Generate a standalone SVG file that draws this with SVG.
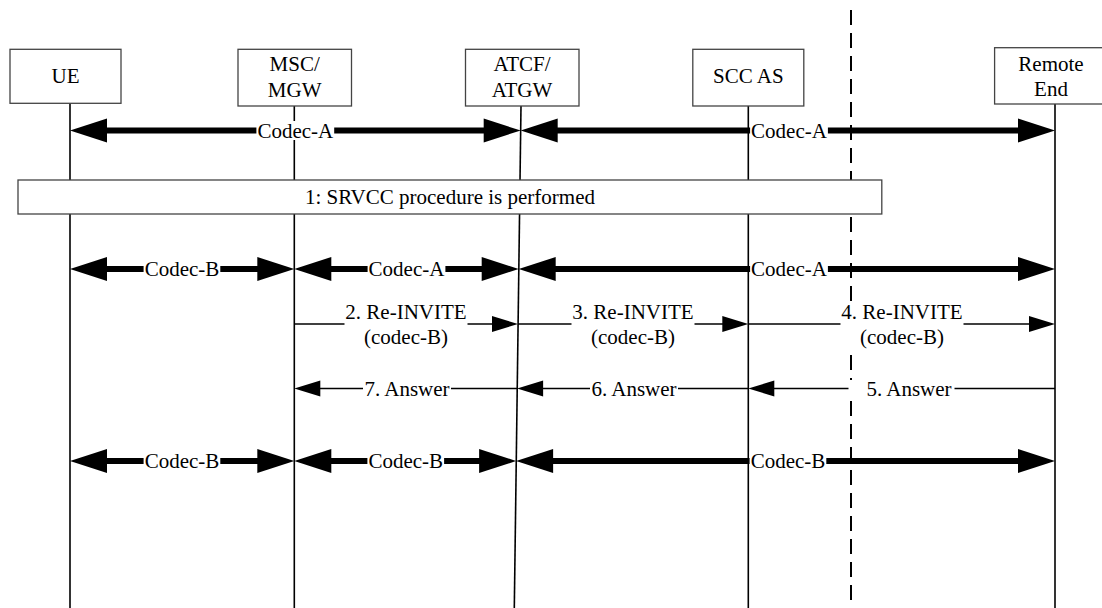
<svg xmlns="http://www.w3.org/2000/svg" width="1102" height="608" viewBox="0 0 1102 608">
<defs>
  <marker id="bigHead" markerUnits="userSpaceOnUse" viewBox="-2 -13 40 26" markerWidth="40" markerHeight="26" refX="0" refY="0" orient="auto-start-reverse">
    <path d="M-1,-12 L36,0 L-1,12 z" fill="#000"/>
  </marker>
  <marker id="smallHead" markerUnits="userSpaceOnUse" viewBox="-2 -9 28 18" markerWidth="28" markerHeight="18" refX="0" refY="0" orient="auto-start-reverse">
    <path d="M-1,-8 L25,0 L-1,8 z" fill="#000"/>
  </marker>
</defs>
<rect x="0" y="0" width="1102" height="608" fill="#fff"/>

<g id="UE">
  <line x1="70" y1="103.3" x2="70" y2="608" stroke="#000" stroke-width="1.6"/>
  <rect x="10" y="49.3" width="111" height="54" fill="#fff" stroke="#444" stroke-width="1.3"/>
  <text x="65.5" y="83" font-family="Liberation Serif" font-size="21" text-anchor="middle">UE</text>
</g>
<g id="MSC-MGW">
  <line x1="294.3" y1="106" x2="294.3" y2="608" stroke="#000" stroke-width="1.6"/>
  <rect x="238" y="49.3" width="113.5" height="56.7" fill="#fff" stroke="#444" stroke-width="1.3"/>
  <text x="294.7" y="71" font-family="Liberation Serif" font-size="21" text-anchor="middle">MSC/</text>
  <text x="294.7" y="97" font-family="Liberation Serif" font-size="21" text-anchor="middle">MGW</text>
</g>
<g id="ATCF-ATGW">
  <line x1="521" y1="106" x2="514.3" y2="608" stroke="#000" stroke-width="1.6"/>
  <rect x="465.5" y="49.3" width="113.5" height="56.7" fill="#fff" stroke="#444" stroke-width="1.3"/>
  <text x="522" y="71" font-family="Liberation Serif" font-size="21" text-anchor="middle">ATCF/</text>
  <text x="522" y="97" font-family="Liberation Serif" font-size="21" text-anchor="middle">ATGW</text>
</g>
<g id="SCC-AS">
  <line x1="748.3" y1="106" x2="748.3" y2="608" stroke="#000" stroke-width="1.6"/>
  <rect x="692.8" y="49.3" width="111" height="56.7" fill="#fff" stroke="#444" stroke-width="1.3"/>
  <text x="748.3" y="83" font-family="Liberation Serif" font-size="21" text-anchor="middle">SCC AS</text>
</g>
<g id="Remote-End">
  <line x1="1055" y1="104" x2="1055" y2="608" stroke="#000" stroke-width="1.6"/>
  <rect x="994.6" y="47.7" width="113" height="56.3" fill="#fff" stroke="#444" stroke-width="1.3"/>
  <text x="1051" y="70.7" font-family="Liberation Serif" font-size="21" text-anchor="middle">Remote</text>
  <text x="1051" y="95.7" font-family="Liberation Serif" font-size="21" text-anchor="middle">End</text>
</g>
<g id="boundary">
  <line x1="851" y1="10" x2="851" y2="608" stroke="#000" stroke-width="2" stroke-dasharray="15 8"/>
</g>

<g id="connectors">
  <g stroke="#000" stroke-width="6" fill="none">
    <line x1="106" y1="130.5" x2="484.7" y2="130.5" marker-start="url(#bigHead)" marker-end="url(#bigHead)"/>
    <line x1="556.7" y1="130.5" x2="1019" y2="130.5" marker-start="url(#bigHead)" marker-end="url(#bigHead)"/>
    <line x1="106" y1="269" x2="258.3" y2="269" marker-start="url(#bigHead)" marker-end="url(#bigHead)"/>
    <line x1="330.3" y1="269" x2="482.7" y2="269" marker-start="url(#bigHead)" marker-end="url(#bigHead)"/>
    <line x1="554.7" y1="269" x2="1019" y2="269" marker-start="url(#bigHead)" marker-end="url(#bigHead)"/>
    <line x1="106" y1="461" x2="258.3" y2="461" marker-start="url(#bigHead)" marker-end="url(#bigHead)"/>
    <line x1="330.3" y1="461" x2="480.1" y2="461" marker-start="url(#bigHead)" marker-end="url(#bigHead)"/>
    <line x1="552.1" y1="461" x2="1019" y2="461" marker-start="url(#bigHead)" marker-end="url(#bigHead)"/>
  </g>
  <g stroke="#000" stroke-width="1.6" fill="none">
    <line x1="294.3" y1="324" x2="493" y2="324" marker-end="url(#smallHead)"/>
    <line x1="518" y1="324" x2="723.3" y2="324" marker-end="url(#smallHead)"/>
    <line x1="748.3" y1="324" x2="1030" y2="324" marker-end="url(#smallHead)"/>
    <line x1="1055" y1="388.5" x2="773.3" y2="388.5" marker-end="url(#smallHead)"/>
    <line x1="748.3" y1="388.5" x2="542.1" y2="388.5" marker-end="url(#smallHead)"/>
    <line x1="517.1" y1="388.5" x2="319.3" y2="388.5" marker-end="url(#smallHead)"/>
  </g>
  <g fill="#fff">
    <rect x="256.4" y="121" width="77.8" height="19"/>
    <rect x="750.1" y="121" width="77.8" height="19"/>
    <rect x="143.6" y="259.5" width="76.7" height="19"/>
    <rect x="367.6" y="259.5" width="77.8" height="19"/>
    <rect x="750.1" y="259.5" width="77.8" height="19"/>
    <rect x="344.5" y="304" width="123" height="44"/>
    <rect x="571.5" y="304" width="123" height="44"/>
    <rect x="840.5" y="304" width="123" height="44"/>
    <rect x="848.5" y="380" width="106" height="17"/>
    <rect x="590" y="380" width="88" height="17"/>
    <rect x="363" y="380" width="88" height="17"/>
    <rect x="143.6" y="451.5" width="76.7" height="19"/>
    <rect x="367.4" y="451.5" width="76.7" height="19"/>
    <rect x="749.6" y="451.5" width="76.7" height="19"/>
  </g>
  <text x="295.3" y="137.5" font-family="Liberation Serif" font-size="21" text-anchor="middle">Codec-A</text>
  <text x="789" y="137.5" font-family="Liberation Serif" font-size="21" text-anchor="middle">Codec-A</text>
  <text x="182" y="276" font-family="Liberation Serif" font-size="21" text-anchor="middle">Codec-B</text>
  <text x="406.5" y="276" font-family="Liberation Serif" font-size="21" text-anchor="middle">Codec-A</text>
  <text x="789" y="276" font-family="Liberation Serif" font-size="21" text-anchor="middle">Codec-A</text>
  <text x="406" y="319" font-family="Liberation Serif" font-size="21" text-anchor="middle">2. Re-INVITE</text>
  <text x="406" y="344" font-family="Liberation Serif" font-size="21" text-anchor="middle">(codec-B)</text>
  <text x="633" y="319" font-family="Liberation Serif" font-size="21" text-anchor="middle">3. Re-INVITE</text>
  <text x="633" y="344" font-family="Liberation Serif" font-size="21" text-anchor="middle">(codec-B)</text>
  <text x="902" y="319" font-family="Liberation Serif" font-size="21" text-anchor="middle">4. Re-INVITE</text>
  <text x="902" y="344" font-family="Liberation Serif" font-size="21" text-anchor="middle">(codec-B)</text>
  <text x="866.4" y="395.5" font-family="Liberation Serif" font-size="21">5. Answer</text>
  <text x="634" y="395.5" font-family="Liberation Serif" font-size="21" text-anchor="middle">6. Answer</text>
  <text x="407" y="395.5" font-family="Liberation Serif" font-size="21" text-anchor="middle">7. Answer</text>
  <text x="182" y="468" font-family="Liberation Serif" font-size="21" text-anchor="middle">Codec-B</text>
  <text x="405.8" y="468" font-family="Liberation Serif" font-size="21" text-anchor="middle">Codec-B</text>
  <text x="788" y="468" font-family="Liberation Serif" font-size="21" text-anchor="middle">Codec-B</text>
</g>

<g id="SRVCC">
  <rect x="18" y="180" width="863.8" height="34" fill="#fff" stroke="#444" stroke-width="1.3"/>
  <text x="450" y="204" font-family="Liberation Serif" font-size="21" text-anchor="middle">1: SRVCC procedure is performed</text>
</g>
</svg>
